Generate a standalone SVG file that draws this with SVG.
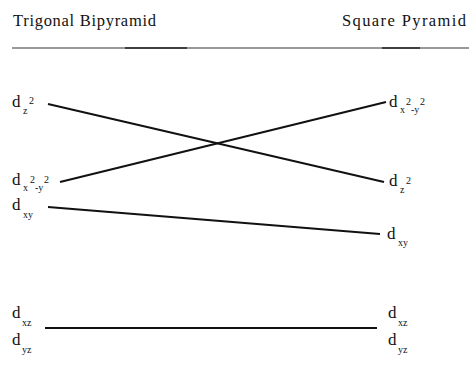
<svg xmlns="http://www.w3.org/2000/svg" width="469" height="387" viewBox="0 0 469 387">
<style>
text{font-family:"Liberation Serif","DejaVu Serif",serif;fill:#111}
.t{font-size:16.5px}
.d{font-size:17px}
.s{font-size:10px}
.c line{stroke:#111;stroke-width:2;stroke-linecap:butt}
</style>
<rect width="469" height="387" fill="#fff"/>
<g id="header">
<text class="t" x="13" y="26" textLength="143" lengthAdjust="spacing">Trigonal Bipyramid</text>
<text class="t" x="342" y="26" textLength="124" lengthAdjust="spacing">Square Pyramid</text>
<line x1="12" y1="48" x2="469" y2="48" stroke="#333" stroke-width="1"/>
<line x1="125" y1="48" x2="187" y2="48" stroke="#222" stroke-width="1.6"/>
<line x1="382" y1="48" x2="420" y2="48" stroke="#222" stroke-width="1.6"/>
</g>
<g class="c" id="connectors">
<line x1="48" y1="104" x2="384" y2="182"/>
<line x1="60" y1="182" x2="386" y2="102"/>
<line x1="48" y1="207" x2="380" y2="234"/>
<line x1="45" y1="328" x2="377" y2="328"/>
</g>
<g id="tbp-z2"><text class="d" x="12" y="107">d</text><text class="s" x="23" y="114">z</text><text class="s" x="29" y="104">2</text></g>
<g id="tbp-x2y2"><text class="d" x="12" y="185">d</text><text class="s" x="23" y="191">x</text><text class="s" x="30" y="183">2</text><text class="s" x="35" y="191">-y</text><text class="s" x="44" y="183">2</text></g>
<g id="tbp-xy"><text class="d" x="12" y="210">d</text><text class="s" x="23" y="218">xy</text></g>
<g id="tbp-xz"><text class="d" x="12" y="318">d</text><text class="s" x="22" y="326">xz</text></g>
<g id="tbp-yz"><text class="d" x="12" y="345">d</text><text class="s" x="22" y="353">yz</text></g>
<g id="sp-x2y2"><text class="d" x="389" y="107">d</text><text class="s" x="400" y="113">x</text><text class="s" x="406" y="105">2</text><text class="s" x="411" y="113">-y</text><text class="s" x="420" y="105">2</text></g>
<g id="sp-z2"><text class="d" x="389" y="186">d</text><text class="s" x="400" y="193">z</text><text class="s" x="406" y="184">2</text></g>
<g id="sp-xy"><text class="d" x="387" y="239">d</text><text class="s" x="398" y="246">xy</text></g>
<g id="sp-xz"><text class="d" x="388" y="318">d</text><text class="s" x="398" y="326">xz</text></g>
<g id="sp-yz"><text class="d" x="388" y="345">d</text><text class="s" x="398" y="353">yz</text></g>
</svg>
